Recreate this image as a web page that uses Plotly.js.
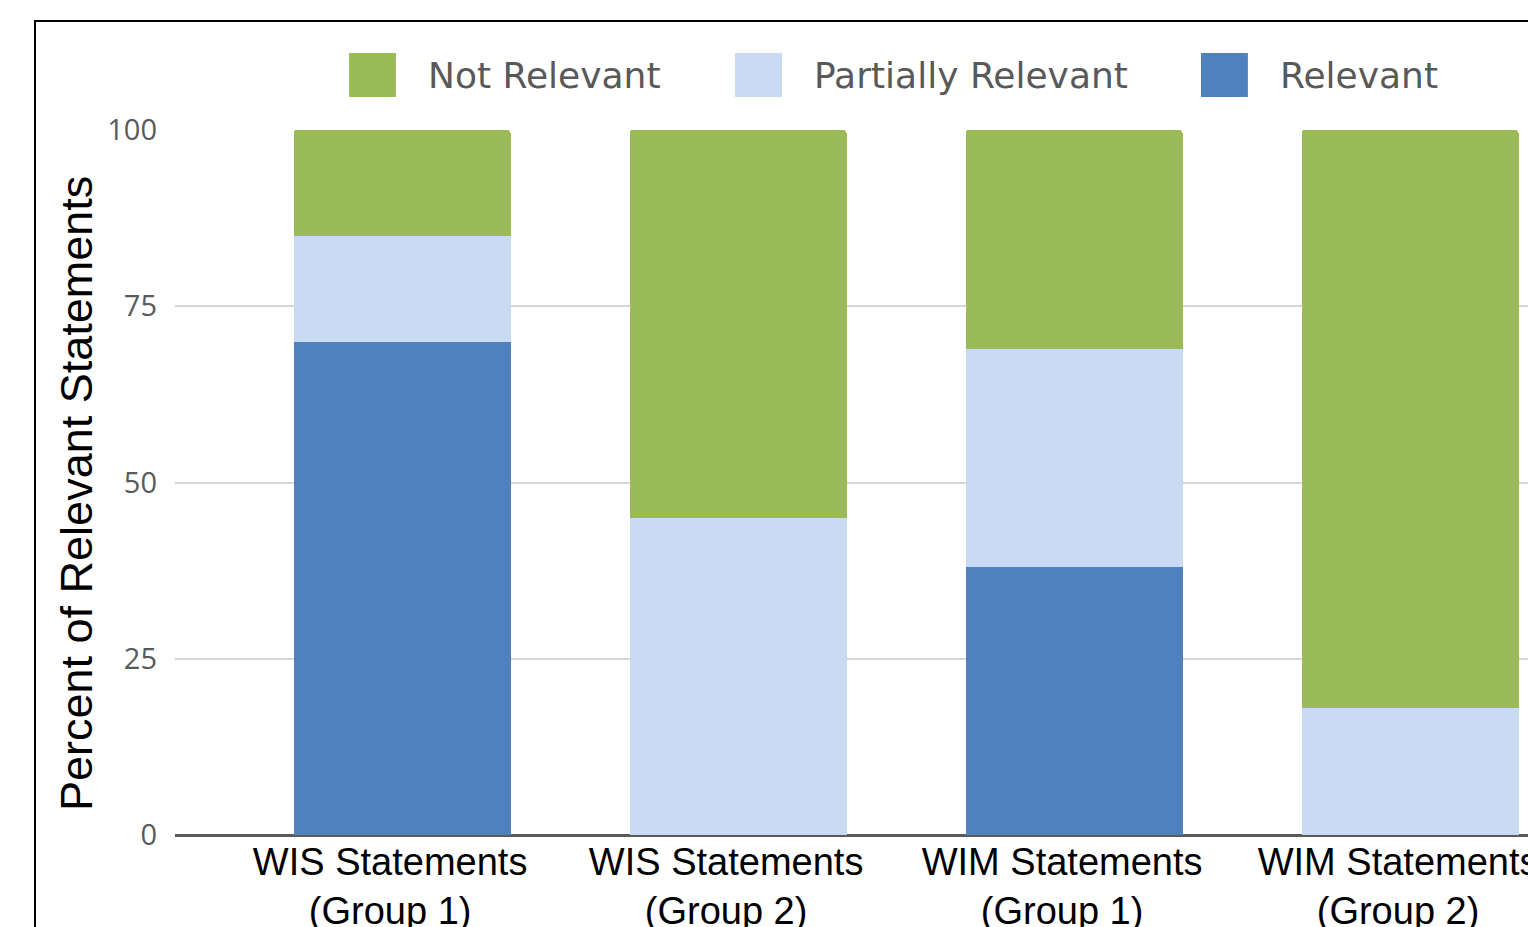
<!DOCTYPE html>
<html>
<head>
<meta charset="utf-8">
<script src="https://cdn.plot.ly/plotly-3.0.1.min.js"></script>
<style>
  html, body { margin: 0; padding: 0; background: #ffffff; width: 1528px; height: 927px; overflow: hidden; }
  #frame { position: absolute; left: 34px; top: 20px; width: 1494px; height: 907px;
           border-left: 2px solid #000; border-top: 2px solid #000; box-sizing: border-box; overflow: hidden; }
  #chart { width: 1492px; height: 905px; }
</style>
</head>
<body>
<div id="frame"><div id="chart"></div></div>
<script>
const categories = ["WIS Statements<br>(Group 1)", "WIS Statements<br>(Group 2)", "WIM Statements<br>(Group 1)", "WIM Statements<br>(Group 2)"];
const seriesNames = ["Relevant", "Partially Relevant", "Not Relevant"];
const relevant = [70, 0, 38, 0];
const partiallyRelevant = [15, 45, 31, 18];
const notRelevant = [15, 55, 31, 82];
const colors = { "Relevant": "#4F81BD", "Partially Relevant": "#C9DAF5", "Not Relevant": "#9BBB59" };
const yTicks = [0, 25, 50, 75, 100];
const yTitle = "Percent of Relevant Statements";

const valuesByName = { "Relevant": relevant, "Partially Relevant": partiallyRelevant, "Not Relevant": notRelevant };
const xIdx = categories.map((c, i) => i);

const traces = seriesNames.map(name => ({
  type: "bar",
  name: name,
  x: xIdx,
  y: valuesByName[name],
  marker: { color: colors[name], line: { width: 0 } },
  showlegend: false,
  hoverinfo: "skip"
}));

// Custom legend (large swatches like the reference)
const legendOrder = ["Not Relevant", "Partially Relevant", "Relevant"];
const legendX = [0.1286, 0.4139, 0.7583];
const swW = 0.0347;
const shapes = [];
const annotations = [];
legendOrder.forEach((name, i) => {
  shapes.push({
    type: "path", xref: "paper", yref: "paper",
    path: "M" + legendX[i] + ",1.0468 L" + (legendX[i] + swW) + ",1.0468 L" + (legendX[i] + swW) + ",1.1092 L" + legendX[i] + ",1.1092 Z",
    fillcolor: colors[name], line: { width: 0 }, layer: "above"
  });
  annotations.push({
    xref: "paper", yref: "paper", x: legendX[i] + swW + 0.0225, y: 1.078,
    xanchor: "left", yanchor: "middle", showarrow: false, text: name,
    font: { family: "DejaVu Sans, sans-serif", size: 36, color: "#595959" }
  });
});

annotations.push({
  xref: "paper", yref: "paper", x: -0.0732, y: 0.485,
  xanchor: "center", yanchor: "middle", showarrow: false, textangle: -90,
  text: yTitle,
  font: { family: "Liberation Sans, Arial, sans-serif", size: 45, color: "#000000" }
});

const layout = {
  width: 1492, height: 905,
  margin: { l: 139, r: 0, t: 108, b: 92, pad: 0 },
  paper_bgcolor: "#ffffff", plot_bgcolor: "#ffffff",
  barmode: "stack",
  bargap: 0.354,
  barcornerradius: 4,
  showlegend: false,
  xaxis: {
    type: "linear",
    range: [-0.676, 3.351],
    tickmode: "array", tickvals: xIdx, ticktext: categories,
    showgrid: false, zeroline: false, showline: false, ticks: "",
    tickfont: { family: "Liberation Sans, Arial, sans-serif", size: 38, color: "#000000" },
    ticklabelstandoff: 1,
    ticklabelshift: -12,
    ticklabeloverflow: "allow",
    automargin: false, fixedrange: true
  },
  yaxis: {
    range: [0, 100],
    tickmode: "array", tickvals: yTicks, ticktext: yTicks.map(String),
    showgrid: true, gridcolor: "#d6d6d6", gridwidth: 2,
    zeroline: true, zerolinecolor: "#5a5a5a", zerolinewidth: 3,
    showline: false, ticks: "",
    tickfont: { family: "Open Sans, sans-serif", size: 29, color: "#5a5a5a" },
    ticklabelstandoff: 17,
    automargin: false, fixedrange: true
  },
  shapes: shapes,
  annotations: annotations
};

Plotly.newPlot("chart", traces, layout, { displayModeBar: false, staticPlot: true });
</script>
</body>
</html>
